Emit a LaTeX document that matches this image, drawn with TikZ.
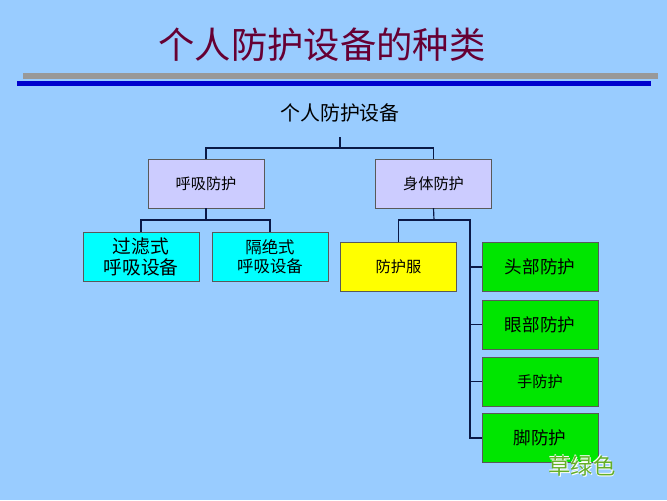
\documentclass[tikz,border=0pt]{standalone}
\usepackage{fontspec}
\newfontfamily\cjk{Noto Sans CJK SC}
\definecolor{bgblue}{RGB}{153,204,255}
\definecolor{lavbox}{RGB}{204,204,255}
\definecolor{cyanbox}{RGB}{0,255,255}
\definecolor{yellowbox}{RGB}{255,255,0}
\definecolor{greenbox}{RGB}{0,230,0}
\definecolor{titlered}{RGB}{102,0,51}
\definecolor{linkblue}{RGB}{10,25,70}
\definecolor{grassgreen}{RGB}{100,175,40}
\tikzset{
  box/.style={draw=gray!70!black, minimum width=3.48cm, minimum height=1.46cm, font=\cjk\fontsize{13}{15}\selectfont, align=center, inner sep=0pt},
  link/.style={linkblue, line width=1pt}
}
\begin{document}
\begin{tikzpicture}[x=0.03cm, y=-0.03cm]
	\fill[bgblue] (0,0) rectangle (667,500);
	\useasboundingbox (0,0) rectangle (667,500);
	\node (title) at (322,45) {\cjk\color{titlered}\fontsize{31}{34}\selectfont 个人防护设备的种类};
	\fill[gray!80] (23,73) rectangle (658,79);
	\fill[blue!80!black] (17,81) rectangle (651,86);
	\node (root) at (340,113) {\cjk\fontsize{17}{19}\selectfont 个人防护设备};
	\node[box, fill=lavbox] (breath) at (206,183.5) {呼吸防护};
	\node[box, fill=lavbox] (body) at (433.5,183.5) {身体防护};
	\node[box, fill=cyanbox, font=\cjk\fontsize{16}{18}\selectfont] (filter) at (141,256.5) {过滤式\\呼吸设备};
	\node[box, fill=cyanbox, font=\cjk\fontsize{14}{16}\selectfont] (isolate) at (270,256.5) {隔绝式\\呼吸设备};
	\node[box, fill=yellowbox] (suit) at (398.5,267) {防护服};
	\node[box, fill=greenbox, font=\cjk\fontsize{15}{17}\selectfont] (head) at (540,267) {头部防护};
	\node[box, fill=greenbox, font=\cjk\fontsize{15}{17}\selectfont] (eye) at (540,324.5) {眼部防护};
	\node[box, fill=greenbox] (hand) at (540,381.5) {手防护};
	\node[box, fill=greenbox, font=\cjk\fontsize{15}{17}\selectfont] (foot) at (540,438) {脚防护};
	\coordinate (rootj) at (340,148);
	\coordinate (breathj) at (206,220);
	\coordinate (bodyj) at (434,220);
	\coordinate (spine) at (470,220);
	\draw[link] (340,137) -- (rootj);
	\draw[link] (breath.north) |- (rootj) -| (body.north);
	\draw[link] (breath.south) -- (breathj);
	\draw[link] (filter.north) |- (breathj) -| (isolate.north);
	\draw[link] (body.south) -- (bodyj);
	\draw[link] (suit.north) |- (spine) |- (foot.west);
	\foreach \n in {head, eye, hand}
		\draw[link] (spine |- \n.west) -- (\n.west);
	\node[font=\cjk\fontsize{19}{21}\selectfont, text=white] (markbg) at (582.6,466.6) {草绿色};
	\node[font=\cjk\fontsize{19}{21}\selectfont, text=white] at (581.4,465.4) {草绿色};
	\node[font=\cjk\fontsize{19}{21}\selectfont, text=grassgreen] (mark) at (582,466) {草绿色};
\end{tikzpicture}
\end{document}
